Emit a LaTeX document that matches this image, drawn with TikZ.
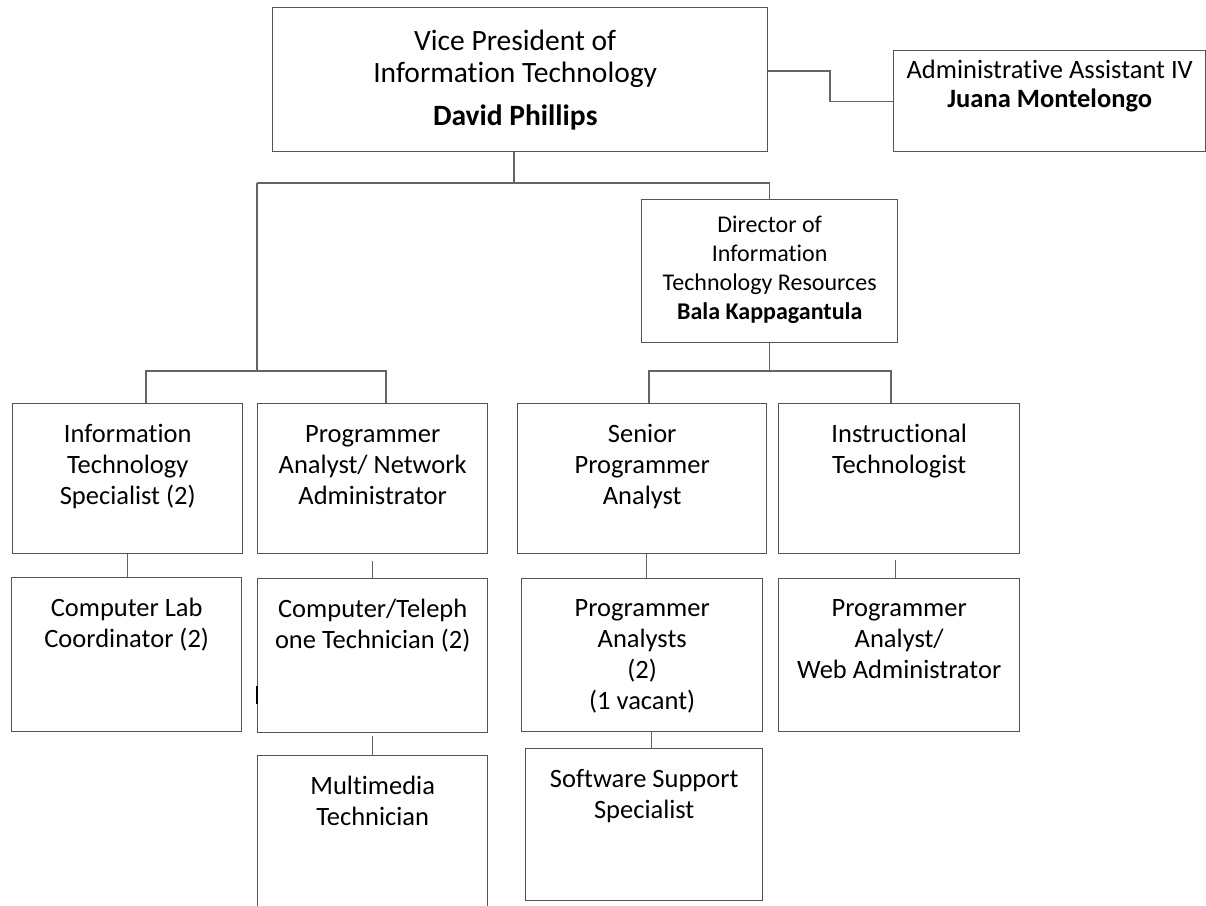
\documentclass[tikz,border=0pt]{standalone}
\usepackage{fontspec}
\setmainfont{Carlito}[Ligatures=NoCommon]
\definecolor{boxc}{RGB}{85,85,85}
\definecolor{linec}{RGB}{100,100,100}
\begin{document}
\begin{tikzpicture}[x=1pt,y=-1pt,
  box/.style={draw=boxc, line width=1.4pt, rectangle, inner sep=0pt, anchor=north west},
  ln/.style={draw=linec, line width=1.4pt},
  txt/.style={anchor=north, inner sep=0pt, align=center, text=black,
    execute at begin node={\rule{0pt}{.77em}}},
  fbig/.style={font=\fontsize{29.5}{32}\selectfont},
  fmid/.style={font=\fontsize{26.5}{29}\selectfont},
  fdir/.style={font=\fontsize{24}{29}\selectfont},
  fsm/.style={font=\fontsize{26.5}{31}\selectfont}
]
\fill[white] (0,0) rectangle (1206,905);
\useasboundingbox (0,0) rectangle (1206,905);

% boxes
\node[box, minimum width=495, minimum height=144] (vp)  at (272,7) {};
\node[box, minimum width=312, minimum height=101] (adm) at (893,50) {};
\node[box, minimum width=256, minimum height=143] (dir) at (641,199) {};
\node[box, minimum width=230, minimum height=150] (its) at (12,403) {};
\node[box, minimum width=230, minimum height=150] (pan) at (257,403) {};
\node[box, minimum width=249, minimum height=150] (spa) at (517,403) {};
\node[box, minimum width=241, minimum height=150] (ins) at (778,403) {};
\node[box, minimum width=230, minimum height=154] (clc) at (11,577) {};
\node[box, minimum width=230, minimum height=154] (ctt) at (257,578) {};
\node[box, minimum width=241, minimum height=153] (pas) at (521,578) {};
\node[box, minimum width=241, minimum height=153] (paw) at (778,578) {};
\node[box, minimum width=230, minimum height=165] (mmt) at (257,755) {};
\node[box, minimum width=237, minimum height=152] (sss) at (525,748) {};

% texts
\node[txt, fbig] (vpt) at ([xshift=-5pt,yshift=-23pt]vp.north) {Vice President of\\Information Technology\\[11pt]\textbf{David Phillips}};
\node[txt, fmid] (admt) at ([yshift=-9.5pt]adm.north) {Administrative Assistant IV\\\textbf{Juana Montelongo}};
\node[txt, fdir] (dirt) at ([yshift=-17pt]dir.north) {Director of\\Information\\Technology Resources\\\textbf{Bala Kappagantula}};
\node[txt, fsm] (itst) at ([yshift=-21pt]its.north) {Information\\Technology\\Specialist (2)};
\node[txt, fsm] (pant) at ([yshift=-22pt]pan.north) {Programmer\\Analyst/ Network\\Administrator};
\node[txt, fsm] (spat) at ([yshift=-21pt]spa.north) {Senior\\Programmer\\Analyst};
\node[txt, fsm] (inst) at ([yshift=-21pt]ins.north) {Instructional\\Technologist};
\node[txt, fsm] (clct) at ([yshift=-21pt]clc.north) {Computer Lab\\Coordinator (2)};
\node[txt, fsm] (cttt) at ([yshift=-21pt]ctt.north) {Computer/Teleph\\one Technician (2)};
\node[txt, fsm] (past) at ([yshift=-21pt]pas.north) {Programmer\\Analysts\\(2)\\(1 vacant)};
\node[txt, fsm] (pawt) at ([yshift=-21pt]paw.north) {Programmer\\Analyst/\\Web Administrator};
\node[txt, fsm] (mmtt) at ([yshift=-21pt]mmt.north) {Multimedia\\Technician};
\node[txt, fsm] (ssst) at ([yshift=-21pt]sss.north) {Software Support\\Specialist};

% junction coordinates
\coordinate (a1) at (830,71);
\coordinate (j1) at (514,183);
\coordinate (j2) at (257,371);
\coordinate (c1) at (146,371);
\coordinate (c2) at (386,371);
\coordinate (c3) at (649,371);
\coordinate (c4) at (891,371);

% connectors
\draw[ln] (vp.east |- a1) -- (a1) |- (adm.west);
\draw[ln] (vp.south -| j1) -- (j1);
\draw[ln] (pan.north west |- j1) -- (dir.north |- j1) -- (dir.north);
\draw[ln] (pan.north west |- j1) -- (j2);
\draw[ln] (its.north -| c1) -- (c1) -- (c2) -- (pan.north -| c2);
\draw[ln] (dir.south) -- (dir.south |- c3);
\draw[ln] (spa.north -| c3) -- (c3) -- (c4) -- (ins.north -| c4);

\draw[ln] (its.south) -- (its.south |- clc.north);
\draw[ln] ([yshift=-7pt]pan.south) -- (ctt.north);
\draw[ln] ([xshift=4pt]spa.south) -- ([xshift=4pt]spa.south |- pas.north);
\draw[ln] ([xshift=-4pt,yshift=-6pt]ins.south) -- ([xshift=-4pt]ins.south |- paw.north);
\draw[ln] ([yshift=-3pt]ctt.south) -- (mmt.north);
\draw[ln] ([xshift=9pt]pas.south) -- ([xshift=9pt]pas.south |- sss.north);
\draw[black, line width=1.6pt] ([yshift=-30pt]ctt.west) -- ([yshift=-48pt]ctt.west);
\end{tikzpicture}
\end{document}
